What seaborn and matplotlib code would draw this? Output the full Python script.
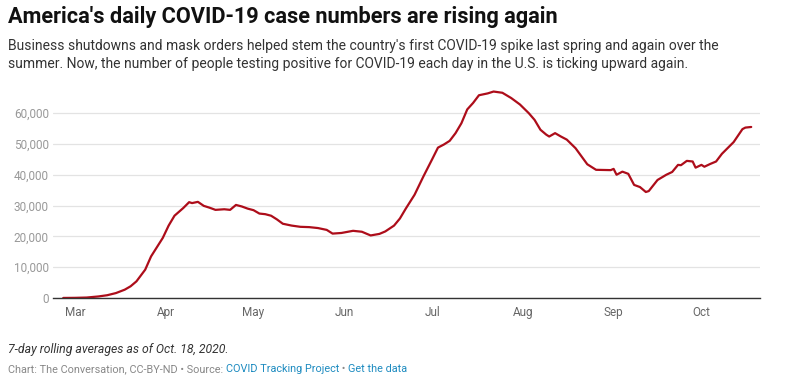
import matplotlib
matplotlib.use("Agg")
import matplotlib.pyplot as plt
import matplotlib.dates as mdates
import seaborn as sns
import pandas as pd
import numpy as np

# 7-day rolling averages
dates = [
    "2020-02-26", "2020-03-01", "2020-03-05", "2020-03-09", "2020-03-12", "2020-03-15",
    "2020-03-18", "2020-03-20", "2020-03-22", "2020-03-25", "2020-03-27", "2020-03-29",
    "2020-03-31", "2020-04-02", "2020-04-04", "2020-04-07", "2020-04-09", "2020-04-10",
    "2020-04-12", "2020-04-14", "2020-04-16", "2020-04-18", "2020-04-21", "2020-04-23",
    "2020-04-25", "2020-04-27", "2020-04-29", "2020-05-01", "2020-05-03", "2020-05-05",
    "2020-05-07", "2020-05-09", "2020-05-11", "2020-05-14", "2020-05-17", "2020-05-20",
    "2020-05-23", "2020-05-26", "2020-05-28", "2020-05-31", "2020-06-04", "2020-06-07",
    "2020-06-10", "2020-06-13", "2020-06-15", "2020-06-18", "2020-06-20", "2020-06-22",
    "2020-06-25", "2020-06-28", "2020-07-01", "2020-07-03", "2020-07-05", "2020-07-07",
    "2020-07-09", "2020-07-11", "2020-07-13", "2020-07-15", "2020-07-17", "2020-07-20",
    "2020-07-22", "2020-07-25", "2020-07-28", "2020-07-31", "2020-08-03", "2020-08-05",
    "2020-08-07", "2020-08-09", "2020-08-10", "2020-08-12", "2020-08-14", "2020-08-16",
    "2020-08-19", "2020-08-23", "2020-08-26", "2020-08-31", "2020-09-01", "2020-09-02",
    "2020-09-04", "2020-09-06", "2020-09-08", "2020-09-10", "2020-09-12", "2020-09-13",
    "2020-09-16", "2020-09-19", "2020-09-21", "2020-09-23", "2020-09-24", "2020-09-26",
    "2020-09-28", "2020-09-29", "2020-10-01", "2020-10-02", "2020-10-04", "2020-10-06",
    "2020-10-08", "2020-10-12", "2020-10-15", "2020-10-16", "2020-10-18",
]
cases = [
    20, 50, 150, 500, 900, 1600,
    2700, 3800, 5400, 9200, 13500, 16500,
    19500, 23500, 26700, 29200, 31100, 30800,
    31200, 29900, 29300, 28600, 28800, 28600,
    30200, 29700, 29000, 28500, 27400, 27200,
    26700, 25500, 24100, 23500, 23100, 23000,
    22700, 22100, 20900, 21100, 21800, 21500,
    20300, 20800, 21600, 23500, 25800, 29000,
    33500, 39400, 45000, 48800, 49800, 51000,
    53500, 56700, 61200, 63300, 65800, 66400,
    67000, 66600, 64900, 62800, 60000, 57800,
    54600, 53000, 52400, 53500, 52400, 51400,
    48600, 43400, 41600, 41500, 41900, 40000,
    41000, 40300, 36700, 36000, 34400, 34700,
    38300, 40000, 40900, 43200, 43100, 44500,
    44300, 42300, 43200, 42600, 43500, 44300,
    46800, 50600, 54800, 55300, 55500,
]
y_ticks = [0, 10000, 20000, 30000, 40000, 50000, 60000]

df = pd.DataFrame({"date": pd.to_datetime(dates), "cases": cases})

sns.set_theme(style="white")
plt.rcParams["font.family"] = ["Roboto", "DejaVu Sans"]

fig = plt.figure(figsize=(7.88, 3.82), dpi=100)
ax = fig.add_axes([53 / 788, 1 - 298 / 382, (760 - 53) / 788, (298 - 90) / 382])

sns.lineplot(data=df, x="date", y="cases", ax=ax, color="#ad0d1a", linewidth=1.6)

ax.set_xlim(pd.Timestamp("2020-02-22 12:00"), pd.Timestamp("2020-10-21"))
ax.set_ylim(0, 67500)
ax.set_yticks(y_ticks)
ax.set_yticklabels([f"{v:,}" for v in y_ticks])
ax.xaxis.set_major_locator(mdates.MonthLocator())
ax.xaxis.set_major_formatter(mdates.DateFormatter("%b"))
ax.tick_params(axis="y", length=0, pad=3, labelsize=8.5, labelcolor="#999999")
ax.tick_params(axis="x", length=0, pad=6, labelsize=8.5, labelcolor="#666666")
ax.set_xlabel("")
ax.set_ylabel("")
ax.grid(axis="y", color="#e3e3e3", linewidth=0.9)
ax.set_axisbelow(True)
for side in ["left", "right", "top"]:
    ax.spines[side].set_visible(False)
ax.spines["bottom"].set_color("#333333")
ax.spines["bottom"].set_linewidth(1.0)

# title and description
fig.text(8 / 788, 1 - 17 / 382, "America's daily COVID-19 case numbers are rising again",
         fontsize=15.7, fontweight="bold", color="#111111", va="center",
         fontstretch="condensed")
fig.text(8 / 788, 1 - 46 / 382,
         "Business shutdowns and mask orders helped stem the country's first COVID-19 spike last spring and again over the",
         fontsize=10, color="#333333", va="center")
fig.text(8 / 788, 1 - 64 / 382,
         "summer. Now, the number of people testing positive for COVID-19 each day in the U.S. is ticking upward again.",
         fontsize=10, color="#333333", va="center")

# footer
fig.text(8 / 788, 1 - 350 / 382, "7-day rolling averages as of Oct. 18, 2020.",
         fontsize=8.8, style="italic", color="#333333", va="center")

pieces = [
    ("Chart: The Conversation, CC-BY-ND \u2022 Source: ", "#888888"),
    ("COVID Tracking Project", "#1d8bc0"),
    (" \u2022 ", "#888888"),
    ("Get the data", "#1d8bc0"),
]
fig.canvas.draw()
renderer = fig.canvas.get_renderer()
x_px = 8
for txt, col in pieces:
    t = fig.text(x_px / 788, 1 - 369 / 382, txt, fontsize=7.85, color=col, va="center")
    x_px += t.get_window_extent(renderer=renderer).width

fig.savefig("out.png", dpi=100)
